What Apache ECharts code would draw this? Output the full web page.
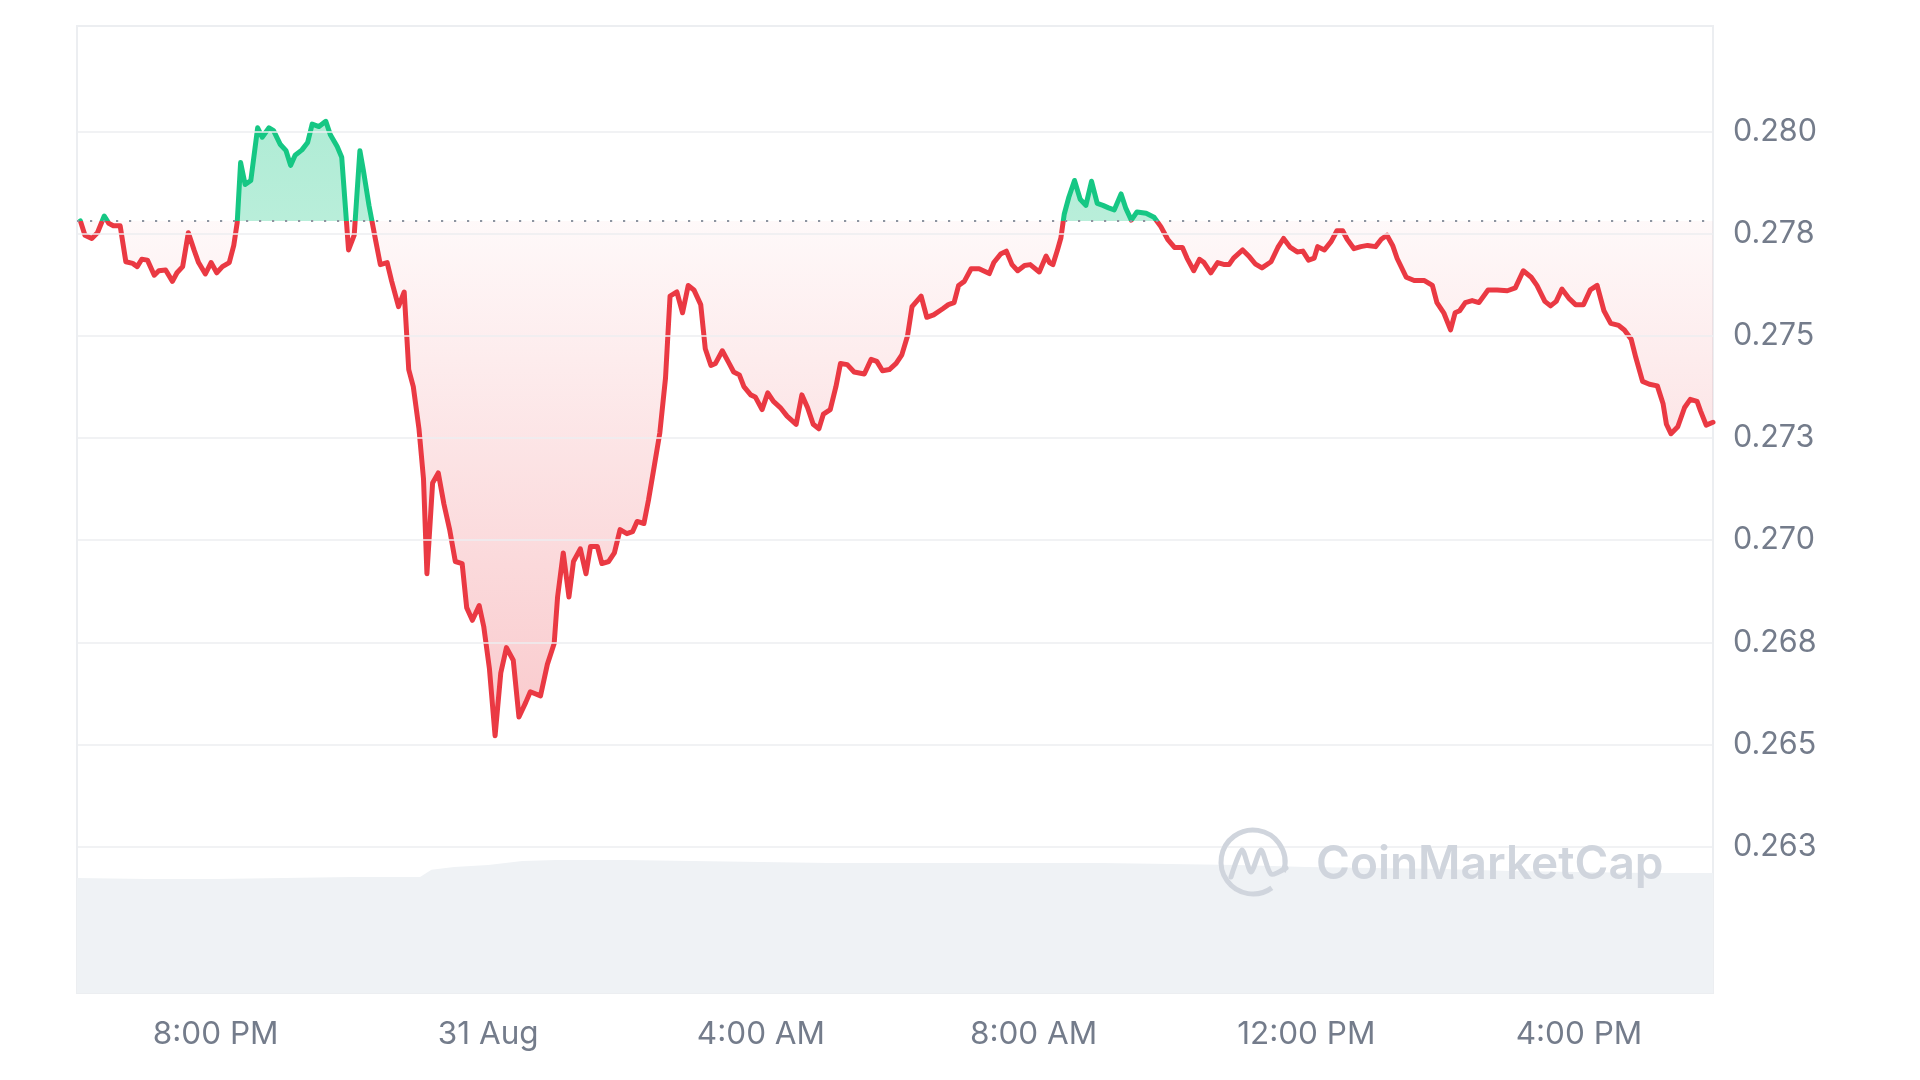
<!DOCTYPE html>
<html>
<head>
<meta charset="utf-8">
<script src="https://cdn.jsdelivr.net/npm/echarts@6/dist/echarts.min.js"></script>
<style>
html,body{margin:0;padding:0;background:#ffffff;}
#chart{width:1920px;height:1080px;}
</style>
</head>
<body>
<div id="chart"></div>
<script>
// ---- Data ----
const times = ['18:01','18:05','18:11','18:16','18:22','18:26','18:30','18:36','18:41','18:47','18:51','18:55','19:00','19:06','19:10','19:16','19:22','19:26','19:31','19:36','19:41','19:45','19:51','19:56','20:01','20:06','20:12','20:16','20:19','20:22','20:26','20:31','20:37','20:41','20:47','20:51','20:57','21:02','21:06','21:10','21:16','21:21','21:25','21:31','21:37','21:41','21:47','21:51','21:57','22:02','22:07','22:10','22:15','22:21','22:25','22:31','22:35','22:41','22:46','22:50','22:54','22:59','23:03','23:06','23:11','23:16','23:21','23:26','23:31','23:37','23:41','23:46','23:52','23:56','00:01','00:06','00:11','00:16','00:22','00:27','00:33','00:37','00:46','00:52','00:58','01:01','01:06','01:11','01:15','01:21','01:26','01:30','01:36','01:40','01:46','01:51','01:56','02:02','02:07','02:11','02:17','02:21','02:26','02:31','02:36','02:40','02:46','02:51','02:56','03:01','03:07','03:11','03:16','03:20','03:26','03:32','03:36','03:41','03:45','03:51','03:55','04:01','04:06','04:11','04:17','04:23','04:31','04:36','04:41','04:46','04:51','04:55','05:01','05:06','05:10','05:16','05:22','05:31','05:37','05:42','05:47','05:53','05:59','06:04','06:09','06:13','06:21','06:26','06:32','06:40','06:45','06:50','06:54','06:59','07:05','07:12','07:21','07:25','07:31','07:36','07:41','07:46','07:52','07:57','08:05','08:11','08:14','08:17','08:21','08:24','08:27','08:31','08:36','08:41','08:46','08:51','08:56','09:01','09:06','09:11','09:17','09:21','09:26','09:31','09:39','09:46','09:52','09:58','10:04','10:11','10:15','10:21','10:26','10:30','10:36','10:42','10:48','10:52','10:56','11:04','11:10','11:15','11:21','11:29','11:35','11:40','11:46','11:52','11:57','12:02','12:07','12:10','12:16','12:22','12:27','12:32','12:36','12:42','12:48','12:54','13:01','13:06','13:11','13:16','13:20','13:28','13:35','13:44','13:51','13:55','14:01','14:07','14:11','14:15','14:20','14:26','14:32','14:40','14:48','14:57','15:04','15:11','15:18','15:23','15:30','15:35','15:40','15:45','15:51','15:57','16:04','16:10','16:16','16:22','16:28','16:35','16:40','16:46','16:50','16:56','17:02','17:09','17:14','17:17','17:21','17:27','17:33','17:38','17:44','17:47','17:52','17:58'];

const prices = [0.27782,0.27747,0.27739,0.27753,0.27794,0.27776,0.27770,0.27770,0.27682,0.27678,0.27670,0.27688,0.27686,0.27649,0.27660,0.27662,0.27634,0.27655,0.27670,0.27753,0.27711,0.27680,0.27652,0.27680,0.27655,0.27670,0.27680,0.27722,0.27778,0.27925,0.27871,0.27881,0.28010,0.27987,0.28010,0.28003,0.27969,0.27954,0.27918,0.27943,0.27956,0.27974,0.28019,0.28013,0.28026,0.27993,0.27964,0.27938,0.27711,0.27747,0.27954,0.27907,0.27820,0.27732,0.27675,0.27680,0.27634,0.27572,0.27608,0.27418,0.27376,0.27273,0.27150,0.26918,0.27140,0.27165,0.27088,0.27026,0.26948,0.26943,0.26835,0.26804,0.26840,0.26789,0.26686,0.26521,0.26675,0.26737,0.26706,0.26567,0.26603,0.26629,0.26619,0.26696,0.26747,0.26861,0.26969,0.26861,0.26948,0.26979,0.26918,0.26985,0.26985,0.26943,0.26948,0.26969,0.27026,0.27016,0.27021,0.27046,0.27041,0.27098,0.27180,0.27263,0.27397,0.27598,0.27608,0.27557,0.27624,0.27613,0.27577,0.27469,0.27428,0.27433,0.27464,0.27433,0.27412,0.27405,0.27376,0.27356,0.27351,0.27320,0.27361,0.27340,0.27325,0.27304,0.27284,0.27356,0.27325,0.27284,0.27273,0.27309,0.27320,0.27376,0.27433,0.27430,0.27412,0.27407,0.27443,0.27438,0.27415,0.27418,0.27433,0.27454,0.27500,0.27572,0.27598,0.27546,0.27552,0.27567,0.27577,0.27582,0.27624,0.27634,0.27665,0.27665,0.27653,0.27680,0.27701,0.27708,0.27675,0.27660,0.27673,0.27675,0.27657,0.27696,0.27680,0.27675,0.27711,0.27740,0.27799,0.27840,0.27881,0.27835,0.27820,0.27879,0.27825,0.27820,0.27814,0.27809,0.27848,0.27814,0.27784,0.27804,0.27801,0.27791,0.27768,0.27737,0.27717,0.27717,0.27691,0.27660,0.27688,0.27680,0.27655,0.27680,0.27675,0.27675,0.27691,0.27711,0.27694,0.27677,0.27667,0.27682,0.27717,0.27739,0.27717,0.27706,0.27708,0.27686,0.27691,0.27719,0.27711,0.27732,0.27758,0.27758,0.27737,0.27714,0.27719,0.27722,0.27719,0.27737,0.27747,0.27722,0.27690,0.27644,0.27636,0.27636,0.27624,0.27582,0.27557,0.27515,0.27557,0.27562,0.27582,0.27587,0.27582,0.27613,0.27613,0.27611,0.27618,0.27660,0.27644,0.27624,0.27585,0.27574,0.27585,0.27615,0.27593,0.27577,0.27577,0.27613,0.27624,0.27562,0.27531,0.27526,0.27515,0.27492,0.27448,0.27389,0.27382,0.27378,0.27335,0.27284,0.27261,0.27278,0.27325,0.27345,0.27340,0.27317,0.27282,0.27289];

const volumeTimes = ['17:58','19:00','20:00','21:00','22:00','23:00','23:10','23:30','00:00','00:30','01:00','02:00','03:00','04:00','05:00','06:00','07:00','08:00','09:00','10:00','11:00','12:00','13:00','14:00','15:00','16:00','17:00','17:58'];
const volumes = [71.3,70.7,70.7,71.3,72.0,72.0,76.5,78.2,79.4,81.9,82.5,82.5,81.9,81.3,80.6,80.6,80.6,80.6,80.6,80.0,79.4,78.2,77.5,76.9,75.7,75.1,74.4,74.4];

const yTickValues = [0.2625,0.2650,0.2675,0.2700,0.2725,0.2750,0.2775,0.2800];
const yTickLabels = ['0.263','0.265','0.268','0.270','0.273','0.275','0.278','0.280'];

const xTickTimes = ['20:00','00:00','04:00','08:00','12:00','16:00'];
const xTickLabels = ['8:00 PM','31 Aug','4:00 AM','8:00 AM','12:00 PM','4:00 PM'];

const rangeStart = '17:58';
const rangeEnd = '17:58';

// ---- helpers ----
function toStamps(list, startDay) {
  let day = startDay, prev = -1;
  return list.map(function (s) {
    const p = s.split(':').map(Number);
    const mins = p[0] * 60 + p[1];
    if (mins < prev) day++;
    prev = mins;
    return new Date(2024, 7, day, p[0], p[1]).getTime();
  });
}
const priceMs = toStamps(times, 30);
const volMs = toStamps(volumeTimes, 30);
const xTickMs = toStamps(xTickTimes, 30);
const xMin = toStamps([rangeStart], 30)[0];
const xMax = toStamps([rangeEnd], 31)[0];

const priceData = priceMs.map((t, i) => [t, prices[i]]);
const volumeData = volMs.map((t, i) => [t, volumes[i]]);

const base = prices[0];
const maxP = Math.max.apply(null, prices);
const minP = Math.min.apply(null, prices);
const bOff = (maxP - base) / (maxP - minP);

const GREEN = '#16c784';
const RED = '#ea3943';
const TEXT = '#747c8b';
const GRIDC = '#eceef1';

const chart = echarts.init(document.getElementById('chart'), null, {renderer: 'canvas'});

const option = {
  animation: false,
  backgroundColor: '#ffffff',
  grid: [
    {left: 77, right: 207, top: 29.8, bottom: 29.3, show: false},
    {left: 77, right: 207, top: 26, bottom: 87, show: true, borderColor: '#eceef1', borderWidth: 2, backgroundColor: 'transparent'}
  ],
  xAxis: [
    {type: 'time', gridIndex: 0, min: xMin, max: xMax, show: false},
    {type: 'time', gridIndex: 1, min: xMin, max: xMax,
     minInterval: 4 * 3600 * 1000, maxInterval: 4 * 3600 * 1000,
     axisLine: {show: false}, axisTick: {show: false}, splitLine: {show: false},
     axisLabel: {
       show: true, margin: 24, color: TEXT, fontFamily: 'Inter', fontSize: 31.5, lineHeight: 36,
       showMinLabel: false, showMaxLabel: false, hideOverlap: false,
       formatter: function (v) {
         const i = xTickMs.findIndex(t => Math.abs(t - v) < 60000);
         return i >= 0 ? xTickLabels[i] : '';
       }
     }}
  ],
  yAxis: [
    {type: 'value', gridIndex: 0, position: 'right', min: 0.2575, max: 0.2825, interval: 0.0025,
     axisLine: {show: false}, axisTick: {show: false}, splitLine: {show: false},
     axisLabel: {
       margin: 20, color: TEXT, fontFamily: 'Inter', fontSize: 30.5,
       formatter: function (v) {
         const i = yTickValues.findIndex(t => Math.abs(t - v) < 1e-7);
         return i >= 0 ? yTickLabels[i] : '';
       }
     }},
    {type: 'value', gridIndex: 1, min: 0, max: 600, show: false, splitLine: {show: false}}
  ],
  visualMap: {
    show: false, type: 'piecewise', seriesIndex: 3, dimension: 1,
    pieces: [
      {gte: 0.2, lt: base, color: RED},
      {gte: base, lte: 0.4, color: GREEN}
    ],
    outOfRange: {color: RED}
  },
  series: [
    { // volume
      type: 'line', xAxisIndex: 1, yAxisIndex: 1, data: volumeData, z: 0,
      showSymbol: false, silent: true, lineStyle: {width: 0, color: '#eff2f5'},
      itemStyle: {color: '#eff2f5'},
      areaStyle: {color: '#eff2f5', opacity: 1}
    },
    { // horizontal grid lines
      type: 'line', xAxisIndex: 0, yAxisIndex: 0, data: priceData, z: 1,
      showSymbol: false, silent: true, lineStyle: {opacity: 0}, itemStyle: {opacity: 0},
      markLine: {
        silent: true, symbol: ['none', 'none'], label: {show: false}, animation: false, precision: 8,
        lineStyle: {color: GRIDC, width: 1.5, type: 'solid'},
        data: yTickValues.map(v => ({yAxis: v}))
      }
    },
    { // dotted opening-price baseline
      type: 'line', xAxisIndex: 0, yAxisIndex: 0, data: priceData, z: 4,
      showSymbol: false, silent: true, lineStyle: {opacity: 0}, itemStyle: {opacity: 0},
      markLine: {
        silent: true, symbol: ['none', 'none'], label: {show: false}, animation: false, precision: 8,
        lineStyle: {color: '#8d94a0', width: 2.2, type: [2.2, 10.8]},
        data: [{yAxis: base}]
      }
    },
    { // price
      type: 'line', xAxisIndex: 0, yAxisIndex: 0, data: priceData, z: 3,
      showSymbol: false, smooth: false,
      lineStyle: {width: 5, join: 'round', cap: 'round'},
      areaStyle: {
        origin: base,
        color: {
          type: 'linear', x: 0, y: 0, x2: 0, y2: 1,
          colorStops: [
            {offset: 0, color: 'rgba(22,199,132,0.34)'},
            {offset: bOff, color: 'rgba(22,199,132,0.30)'},
            {offset: bOff, color: 'rgba(234,57,67,0.03)'},
            {offset: 1, color: 'rgba(234,57,67,0.27)'}
          ]
        },
        opacity: 1
      }
    }
  ],
  graphic: [
    {type: 'arc', silent: true, z: 50,
     shape: {cx: 1253, cy: 862, r: 32, startAngle: 0.3 * Math.PI, endAngle: 2.1 * Math.PI, clockwise: true},
     style: {stroke: '#d0d5dd', lineWidth: 5, fill: null}},
    {type: 'polyline', silent: true, z: 50,
     shape: {points: [[1231, 877], [1242, 850], [1251, 872], [1261, 850], [1271, 874], [1286, 868]], smooth: 0.25},
     style: {stroke: '#d0d5dd', lineWidth: 5, fill: null, lineJoin: 'round', lineCap: 'round'}},
    {type: 'text', silent: true, z: 50, x: 1316, y: 865,
     style: {text: 'CoinMarketCap', fill: '#d0d5dd', font: '600 46px Inter', align: 'left', verticalAlign: 'middle', textAlign: 'left', textVerticalAlign: 'middle'}}
  ]
};

chart.setOption(option);
</script>
</body>
</html>
